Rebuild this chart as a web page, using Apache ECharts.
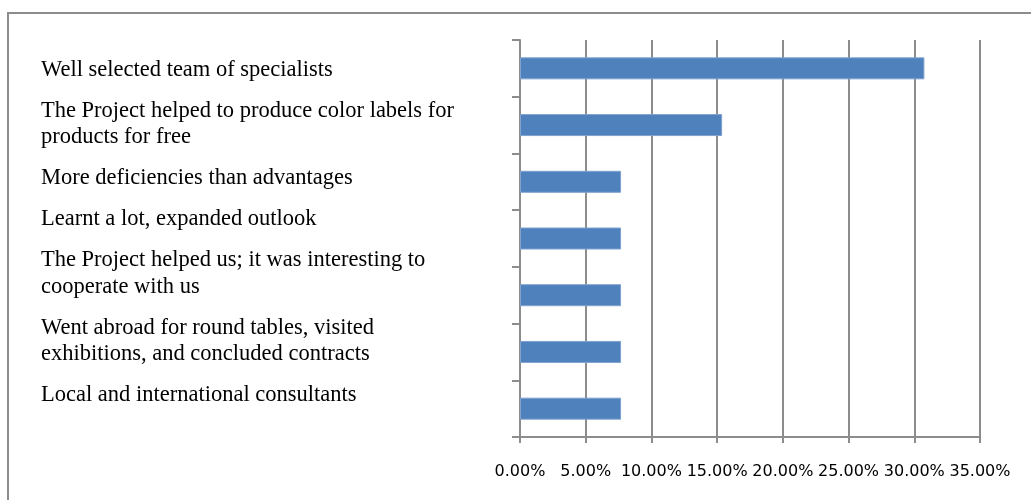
<!DOCTYPE html>
<html>
<head>
<meta charset="utf-8">
<script src="https://cdn.jsdelivr.net/npm/echarts@6/dist/echarts.min.js"></script>
<style>
  html, body { margin: 0; padding: 0; background: #fff; }
  #chart { width: 1031px; height: 500px; }
</style>
</head>
<body>
<div id="chart"></div>
<script>
// answers, top to bottom (line breaks as in the original)
const categories = [
  'Well selected team of specialists',
  'The Project helped to produce color labels for\nproducts for free',
  'More deficiencies than advantages',
  'Learnt a lot, expanded outlook',
  'The Project helped us; it was interesting to\ncooperate with us',
  'Went abroad for round tables, visited\nexhibitions, and concluded contracts',
  'Local and international consultants'
];
// share of respondents, %
const values = [30.77, 15.38, 7.69, 7.69, 7.69, 7.69, 7.69];
const xMin = 0;
const xMax = 35;
const xStep = 5;

const gray = '#8c8c8c';
const chart = echarts.init(document.getElementById('chart'));

// left-hand answer texts flow like a paragraph list
const lineH = 26.5;
const graphics = [{
  type: 'rect',
  silent: true,
  shape: { x: 8, y: 13, width: 1040, height: 520 },
  style: { fill: 'none', stroke: gray, lineWidth: 2 }
}];
let y = 70 - lineH / 2;
categories.forEach(function (c) {
  const n = c.split('\n').length;
  graphics.push({
    type: 'text',
    silent: true,
    x: 41,
    y: y,
    style: {
      text: c,
      font: '22.5px "Liberation Serif", "Times New Roman", serif',
      fill: '#000',
      lineHeight: lineH,
      verticalAlign: 'top'
    }
  });
  y += (n - 1) * lineH + 41;
});

const option = {
  animation: false,
  grid: {
    left: 520,
    right: 51,
    top: 40,
    bottom: 63
  },
  xAxis: {
    type: 'value',
    min: xMin,
    max: xMax,
    interval: xStep,
    axisLine: { show: true, lineStyle: { color: gray, width: 2 } },
    axisTick: { show: true, length: 6, lineStyle: { color: gray, width: 2 } },
    splitLine: { show: true, lineStyle: { color: gray, width: 2 } },
    axisLabel: {
      color: '#000',
      fontSize: 16,
      fontFamily: '"DejaVu Sans", sans-serif',
      margin: 27,
      formatter: function (v) { return v.toFixed(2) + '%'; }
    }
  },
  yAxis: {
    type: 'category',
    inverse: true,
    data: categories,
    axisLine: { show: true, lineStyle: { color: gray, width: 2 } },
    axisTick: { show: true, length: 8, lineStyle: { color: gray, width: 2 } },
    axisLabel: { show: false },
    splitLine: { show: false }
  },
  series: [{
    type: 'bar',
    data: values,
    barWidth: 22,
    itemStyle: {
      color: '#4F81BD',
      borderColor: '#7FA2CF',
      borderWidth: 1
    }
  }],
  graphic: graphics
};

chart.setOption(option);
</script>
</body>
</html>
